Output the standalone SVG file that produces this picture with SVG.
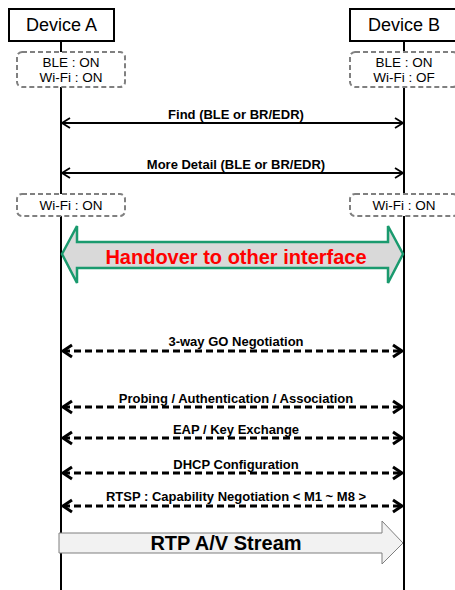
<svg xmlns="http://www.w3.org/2000/svg" width="455" height="590" viewBox="0 0 455 590">
<style>
.dev{fill:#fff;stroke:#000;stroke-width:2}
.devt{font-family:"Liberation Sans",Arial,sans-serif;font-size:18px;fill:#000;text-anchor:middle}
.st{fill:#fff;stroke:#808080;stroke-width:2;stroke-dasharray:5 3}
.stt{font-family:"Liberation Sans",Arial,sans-serif;font-size:13.5px;fill:#000;text-anchor:middle}
.life{stroke:#000;stroke-width:2}
.sol{stroke:#000;stroke-width:1.8;fill:none}
.dash{stroke:#000;stroke-width:3;fill:none;stroke-dasharray:7 4}
.lbl{font-family:"Liberation Sans",Arial,sans-serif;font-size:13px;font-weight:bold;fill:#000;text-anchor:middle}
</style>
<defs>
<marker id="hs" markerUnits="userSpaceOnUse" markerWidth="14" markerHeight="14" refX="0" refY="0" viewBox="-10 -7 12 14" orient="auto-start-reverse" overflow="visible">
<path d="M-8,-5 L0,0 L-8,5" fill="none" stroke="#000" stroke-width="1.8"/>
</marker>
<marker id="hd" markerUnits="userSpaceOnUse" markerWidth="14" markerHeight="14" refX="0" refY="0" viewBox="-10 -7 12 14" orient="auto-start-reverse" overflow="visible">
<path d="M-9,-6 L0,0 L-9,6" fill="none" stroke="#000" stroke-width="3"/>
</marker>
</defs>
<g id="lifelines">
<line class="life" x1="61" y1="41" x2="61" y2="590"/>
<line class="life" x1="404" y1="41" x2="404" y2="590"/>
</g>
<g id="deviceA"><rect class="dev" x="9" y="9" width="105" height="32"/><text class="devt" x="61.5" y="31">Device A</text></g>
<g id="deviceB"><rect class="dev" x="350" y="9" width="108" height="32"/><text class="devt" x="404" y="31">Device B</text></g>
<g id="statusA1"><rect class="st" x="17" y="52" width="108" height="35" rx="5"/><text class="stt" x="71" y="67">BLE : ON</text><text class="stt" x="71" y="82">Wi-Fi : ON</text></g>
<g id="statusB1"><rect class="st" x="350" y="52" width="108" height="35" rx="5"/><text class="stt" x="404" y="67">BLE : ON</text><text class="stt" x="404" y="82">Wi-Fi : OF</text></g>
<g id="statusA2"><rect class="st" x="17" y="194" width="108" height="22" rx="5"/><text class="stt" x="71" y="210">Wi-Fi : ON</text></g>
<g id="statusB2"><rect class="st" x="350" y="194" width="108" height="22" rx="5"/><text class="stt" x="404" y="210">Wi-Fi : ON</text></g>
<g id="connectors">
<line class="sol" x1="62" y1="123" x2="403" y2="123" marker-start="url(#hs)" marker-end="url(#hs)"/>
<line class="sol" x1="62" y1="173" x2="403" y2="173" marker-start="url(#hs)" marker-end="url(#hs)"/>
<line class="dash" x1="63" y1="351" x2="402" y2="351" marker-start="url(#hd)" marker-end="url(#hd)"/>
<line class="dash" x1="63" y1="407" x2="402" y2="407" marker-start="url(#hd)" marker-end="url(#hd)"/>
<line class="dash" x1="63" y1="438" x2="402" y2="438" marker-start="url(#hd)" marker-end="url(#hd)"/>
<line class="dash" x1="63" y1="473" x2="402" y2="473" marker-start="url(#hd)" marker-end="url(#hd)"/>
<line class="dash" x1="63" y1="506" x2="402" y2="506" marker-start="url(#hd)" marker-end="url(#hd)"/>
</g>
<g id="labels">
<text class="lbl" x="236" y="119">Find (BLE or BR/EDR)</text>
<text class="lbl" x="236" y="169">More Detail (BLE or BR/EDR)</text>
<text class="lbl" x="236" y="346">3-way GO Negotiation</text>
<text class="lbl" x="236" y="403">Probing / Authentication / Association</text>
<text class="lbl" x="236" y="434">EAP / Key Exchange</text>
<text class="lbl" x="236" y="469">DHCP Configuration</text>
<text class="lbl" x="236" y="501">RTSP : Capability Negotiation &lt; M1 ~ M8 &gt;</text>
</g>
<g id="handover">
<polygon points="62,254 77,226 77,242 388,242 388,226 403,254 388,283 388,268 77,268 77,283" fill="#d9d9d9" stroke="#1a9a6e" stroke-width="2.5" stroke-linejoin="miter"/>
<text x="236" y="264" font-family="'Liberation Sans',Arial,sans-serif" font-size="20" font-weight="bold" fill="#ff0000" text-anchor="middle">Handover to other interface</text>
</g>
<g id="rtp">
<polygon points="59,533 382,533 382,521 403,543 382,564 382,553 59,553" fill="#f2f2f2" stroke="#7f7f7f" stroke-width="1"/>
<text x="226" y="550" font-family="'Liberation Sans',Arial,sans-serif" font-size="20" font-weight="bold" fill="#000" text-anchor="middle">RTP A/V Stream</text>
</g>
</svg>
